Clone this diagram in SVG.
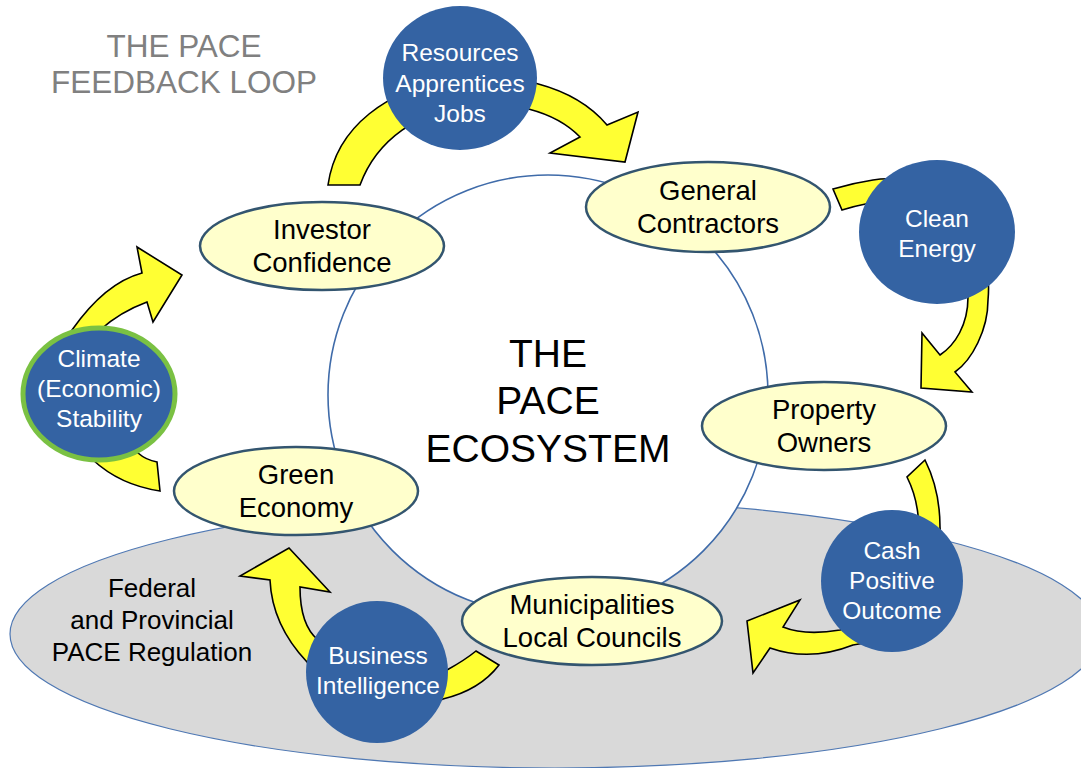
<svg xmlns="http://www.w3.org/2000/svg" width="1081" height="768" viewBox="0 0 1081 768">
  <defs>
    <style>
      .backdrop { fill: #d9d9d9; stroke: #4f78b3; stroke-width: 1.2; }
      .core { fill: #ffffff; stroke: #3f6ba9; stroke-width: 1.6; }
      .flow { fill: #ffff33; stroke: #000000; stroke-width: 1.6; stroke-linejoin: miter; }
      .stage { fill: #ffffcc; stroke: #33556f; stroke-width: 2.5; }
      .hub { fill: #3463a3; }
      .hub-green { fill: #3463a3; stroke: #7ac143; stroke-width: 5; }
      text { font-family: "Liberation Sans", Arial, sans-serif; text-anchor: middle; }
      .stage-label { font-size: 27.5px; fill: #000000; }
      .hub-label { font-size: 24.5px; fill: #ffffff; }
      .title { font-size: 31.5px; fill: #808080; }
      .core-label { font-size: 39px; fill: #000000; }
      .zone-label { font-size: 26px; fill: #000000; }
    </style>
  </defs>

  <rect width="1081" height="768" fill="#ffffff"/>

  <!-- regulatory zone -->
  <g id="regulation-zone">
    <ellipse class="backdrop" cx="555" cy="634" rx="545" ry="134"/>
    <text class="zone-label" x="152" y="597">Federal</text>
    <text class="zone-label" x="152" y="629">and Provincial</text>
    <text class="zone-label" x="152" y="661">PACE Regulation</text>
  </g>

  <!-- heading -->
  <g id="heading">
    <text class="title" x="184" y="57">THE PACE</text>
    <text class="title" x="184" y="93">FEEDBACK LOOP</text>
  </g>

  <!-- ecosystem core -->
  <g id="ecosystem">
    <circle class="core" cx="548" cy="395" r="220"/>
    <text class="core-label" x="548" y="367">THE</text>
    <text class="core-label" x="548" y="414">PACE</text>
    <text class="core-label" x="548" y="462">ECOSYSTEM</text>
  </g>

  <!-- curved feedback arrows -->
  <g id="connectors">
    <path class="flow" d="M328,185 C345,65 540,45 607,125 L638,112 L625,162 L550,153 L580,137 C530,85 395,90 360,185 Z"/>
    <path class="flow" d="M833,189 Q853,183 873,180 C935,170 995,225 988,300 C988,330 972,360 955,372 L972,392 L921,388 L922,333 L940,355 C955,345 968,325 968,297 C968,240 920,195 870,203 Q855,206 842,210 Z"/>
    <path class="flow" d="M925,460 C935,480 940,500 940,527 C945,590 900,640 853,645 Q810,662 770,648 L753,673 L747,621 L800,600 L783,627 Q805,636 840,630 C890,620 920,560 918,515 Q916,495 907,477 Z"/>
    <path class="flow" d="M499,665 Q480,690 443,699 C400,720 330,710 307,662 Q272,625 270,580 L240,576 L289,548 L330,592 L300,587 Q300,625 318,640 C345,680 410,690 447,670 Q465,660 476,651 Z"/>
    <path class="flow" d="M157,462 Q146,460 138,453 C75,430 70,360 100,330 Q120,312 147,302 L153,322 L182,275 L137,247 L142,273 Q105,283 72,330 C45,370 50,430 93,460 Q120,485 160,491 Z"/>
  </g>

  <!-- stakeholder stages -->
  <g id="investor-confidence">
    <ellipse class="stage" cx="322" cy="246" rx="122" ry="44"/>
    <text class="stage-label" x="322" y="239">Investor</text>
    <text class="stage-label" x="322" y="272">Confidence</text>
  </g>
  <g id="general-contractors">
    <ellipse class="stage" cx="708" cy="207" rx="122" ry="45"/>
    <text class="stage-label" x="708" y="200">General</text>
    <text class="stage-label" x="708" y="233">Contractors</text>
  </g>
  <g id="property-owners">
    <ellipse class="stage" cx="824" cy="426" rx="122" ry="44"/>
    <text class="stage-label" x="824" y="419">Property</text>
    <text class="stage-label" x="824" y="452">Owners</text>
  </g>
  <g id="municipalities">
    <ellipse class="stage" cx="592" cy="621" rx="130" ry="44"/>
    <text class="stage-label" x="592" y="614">Municipalities</text>
    <text class="stage-label" x="592" y="647">Local Councils</text>
  </g>
  <g id="green-economy">
    <ellipse class="stage" cx="296" cy="491" rx="122" ry="44"/>
    <text class="stage-label" x="296" y="484">Green</text>
    <text class="stage-label" x="296" y="517">Economy</text>
  </g>

  <!-- outcome hubs -->
  <g id="resources">
    <ellipse class="hub" cx="460" cy="78" rx="77" ry="72"/>
    <text class="hub-label" x="460" y="61">Resources</text>
    <text class="hub-label" x="460" y="91.5">Apprentices</text>
    <text class="hub-label" x="460" y="122">Jobs</text>
  </g>
  <g id="clean-energy">
    <ellipse class="hub" cx="937" cy="232" rx="78" ry="72"/>
    <text class="hub-label" x="937" y="227">Clean</text>
    <text class="hub-label" x="937" y="257">Energy</text>
  </g>
  <g id="cash-positive">
    <ellipse class="hub" cx="892" cy="581" rx="71" ry="71"/>
    <text class="hub-label" x="892" y="559">Cash</text>
    <text class="hub-label" x="892" y="589">Positive</text>
    <text class="hub-label" x="892" y="619">Outcome</text>
  </g>
  <g id="business-intelligence">
    <ellipse class="hub" cx="377" cy="672" rx="71" ry="71"/>
    <text class="hub-label" x="378" y="664">Business</text>
    <text class="hub-label" x="378" y="694">Intelligence</text>
  </g>
  <g id="climate-stability">
    <ellipse class="hub-green" cx="99" cy="394" rx="76" ry="66"/>
    <text class="hub-label" x="99" y="367">Climate</text>
    <text class="hub-label" x="99" y="397">(Economic)</text>
    <text class="hub-label" x="99" y="427">Stability</text>
  </g>
</svg>
